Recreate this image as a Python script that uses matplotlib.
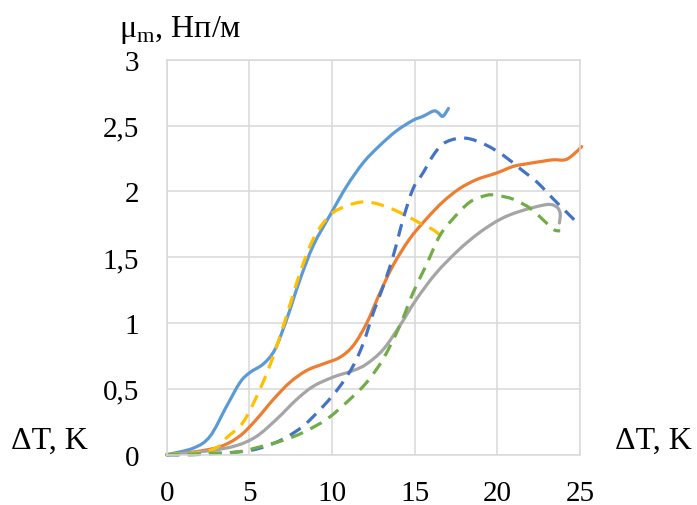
import matplotlib
matplotlib.use("Agg")
import matplotlib.pyplot as plt
from matplotlib.path import Path
from matplotlib.patches import PathPatch

# Data
lb_x = [0, 1.61, 2.62, 3.63, 4.44, 5.04, 5.85, 6.55, 7.26, 8.06, 8.87, 9.88, 10.89, 11.9, 12.9, 13.9, 14.9, 15.5, 16.13, 16.4, 16.7, 17.04]
lb_y = [0, 0.05, 0.14, 0.37, 0.55, 0.625, 0.69, 0.80, 1.03, 1.33, 1.59, 1.82, 2.04, 2.22, 2.35, 2.46, 2.54, 2.57, 2.61, 2.60, 2.57, 2.63]

or_x = [0, 1.6, 3.2, 4.4, 5.44, 6.45, 7.46, 8.47, 9.48, 10.48, 11.29, 12.1, 12.9, 13.7, 14.7, 15.7, 16.7, 17.7, 18.75, 19.96, 20.97, 21.8, 22.8, 23.4, 24.1, 24.6, 25.1]
or_y = [0, 0.02, 0.06, 0.14, 0.27, 0.42, 0.55, 0.64, 0.69, 0.74, 0.83, 1.0, 1.23, 1.44, 1.64, 1.79, 1.92, 2.02, 2.09, 2.14, 2.19, 2.21, 2.23, 2.24, 2.24, 2.28, 2.34]

gr_x = [0, 2.6, 4.23, 5.44, 6.65, 7.86, 8.87, 10.08, 11.3, 12.1, 13.1, 14.1, 15.1, 16.3, 17.7, 18.95, 20.2, 21.4, 23.0, 23.6, 23.8, 23.75]
gr_y = [0, 0.03, 0.07, 0.14, 0.27, 0.42, 0.52, 0.59, 0.64, 0.69, 0.80, 0.98, 1.18, 1.38, 1.56, 1.69, 1.79, 1.85, 1.90, 1.88, 1.83, 1.76]

ye_x = [0, 2.2, 3.23, 3.63, 4.64, 5.65, 6.45, 7.26, 8.06, 8.87, 9.88, 10.9, 11.9, 12.9, 14.1, 15.3, 16.1, 16.6]
ye_y = [0, 0.02, 0.07, 0.13, 0.25, 0.50, 0.75, 1.06, 1.38, 1.64, 1.82, 1.89, 1.92, 1.90, 1.84, 1.76, 1.71, 1.66]

db_x = [0, 1.6, 4.23, 5.65, 7.06, 8.27, 9.48, 10.48, 11.3, 11.9, 12.5, 13.1, 13.7, 14.3, 14.9, 15.5, 16.1, 16.7, 17.5, 18.3, 19.35, 20.4, 21.4, 22.4, 23.4, 24.2, 25.0]
db_y = [0, 0.0, 0.02, 0.05, 0.12, 0.22, 0.37, 0.52, 0.68, 0.85, 1.08, 1.28, 1.51, 1.79, 2.02, 2.14, 2.27, 2.36, 2.40, 2.40, 2.35, 2.27, 2.17, 2.07, 1.94, 1.84, 1.74]

gn_x = [0, 2.6, 4.23, 5.65, 7.06, 8.27, 9.68, 10.9, 12.1, 13.1, 14.1, 14.9, 15.7, 16.5, 17.3, 18.35, 19.35, 19.96, 20.97, 22.0, 22.8, 23.4, 23.8]
gn_y = [0, 0.01, 0.02, 0.06, 0.11, 0.17, 0.27, 0.40, 0.55, 0.73, 0.98, 1.23, 1.44, 1.66, 1.79, 1.92, 1.97, 1.97, 1.94, 1.87, 1.78, 1.71, 1.70]

x_ticks = [0, 5, 10, 15, 20, 25]
y_ticks = [0, 0.5, 1, 1.5, 2, 2.5, 3]
y_tick_labels = ["0", "0,5", "1", "1,5", "2", "2,5", "3"]

plt.rcParams['font.family'] = ['Liberation Serif', 'DejaVu Serif']

fig = plt.figure(figsize=(6.97, 5.06), dpi=100)
ax = fig.add_axes([0.2392, 0.0994, 0.5930, 0.7806])


def smooth_path(xs, ys):
    """Excel-like smoothed line: Catmull-Rom spline as cubic Bezier path."""
    pts = list(zip(xs, ys))
    n = len(pts)
    verts = [pts[0]]
    codes = [Path.MOVETO]
    for i in range(n - 1):
        p0 = pts[i - 1] if i > 0 else pts[i]
        p1 = pts[i]
        p2 = pts[i + 1]
        p3 = pts[i + 2] if i + 2 < n else pts[i + 1]
        c1 = (p1[0] + (p2[0] - p0[0]) / 6, p1[1] + (p2[1] - p0[1]) / 6)
        c2 = (p2[0] - (p3[0] - p1[0]) / 6, p2[1] - (p3[1] - p1[1]) / 6)
        verts += [c1, c2, p2]
        codes += [Path.CURVE4] * 3
    return Path(verts, codes)


lw = 2.3
def draw(xs, ys, color, dashed=False):
    patch = PathPatch(smooth_path(xs, ys), fill=False, edgecolor=color, lw=lw,
                      capstyle='butt' if dashed else 'round', joinstyle='round',
                      clip_on=False)
    if dashed:
        patch.set_linestyle((0, (4, 2.6)))
    ax.add_patch(patch)

draw(lb_x, lb_y, '#5B9BD5')
draw(or_x, or_y, '#ED7D31')
draw(gr_x, gr_y, '#A5A5A5')
draw(ye_x, ye_y, '#FFC000', dashed=True)
draw(db_x, db_y, '#4472C4', dashed=True)
draw(gn_x, gn_y, '#70AD47', dashed=True)

ax.set_xlim(0, 25)
ax.set_ylim(0, 3)
ax.set_xticks(x_ticks)
ax.set_xticklabels([str(t) for t in x_ticks])
ax.set_yticks(y_ticks)
ax.set_yticklabels(y_tick_labels)
ax.tick_params(axis='both', length=0, labelsize=21)
ax.tick_params(axis='x', pad=18)
ax.tick_params(axis='y', pad=20)
ax.grid(True, color='#D9D9D9', lw=1.1)
ax.set_axisbelow(True)
for s in ax.spines.values():
    s.set_color('#D9D9D9')
    s.set_linewidth(1.1)

fig.text(119 / 697, 1 - 30 / 506, "μ$_{\\mathregular{m}}$, Нп/м", fontsize=23, ha='left', va='center')
fig.text(11 / 697, 1 - 441 / 506, "ΔT, K", fontsize=23, ha='left', va='center')
fig.text(615 / 697, 1 - 441 / 506, "ΔT, K", fontsize=23, ha='left', va='center')

fig.savefig("out.png", dpi=100)
